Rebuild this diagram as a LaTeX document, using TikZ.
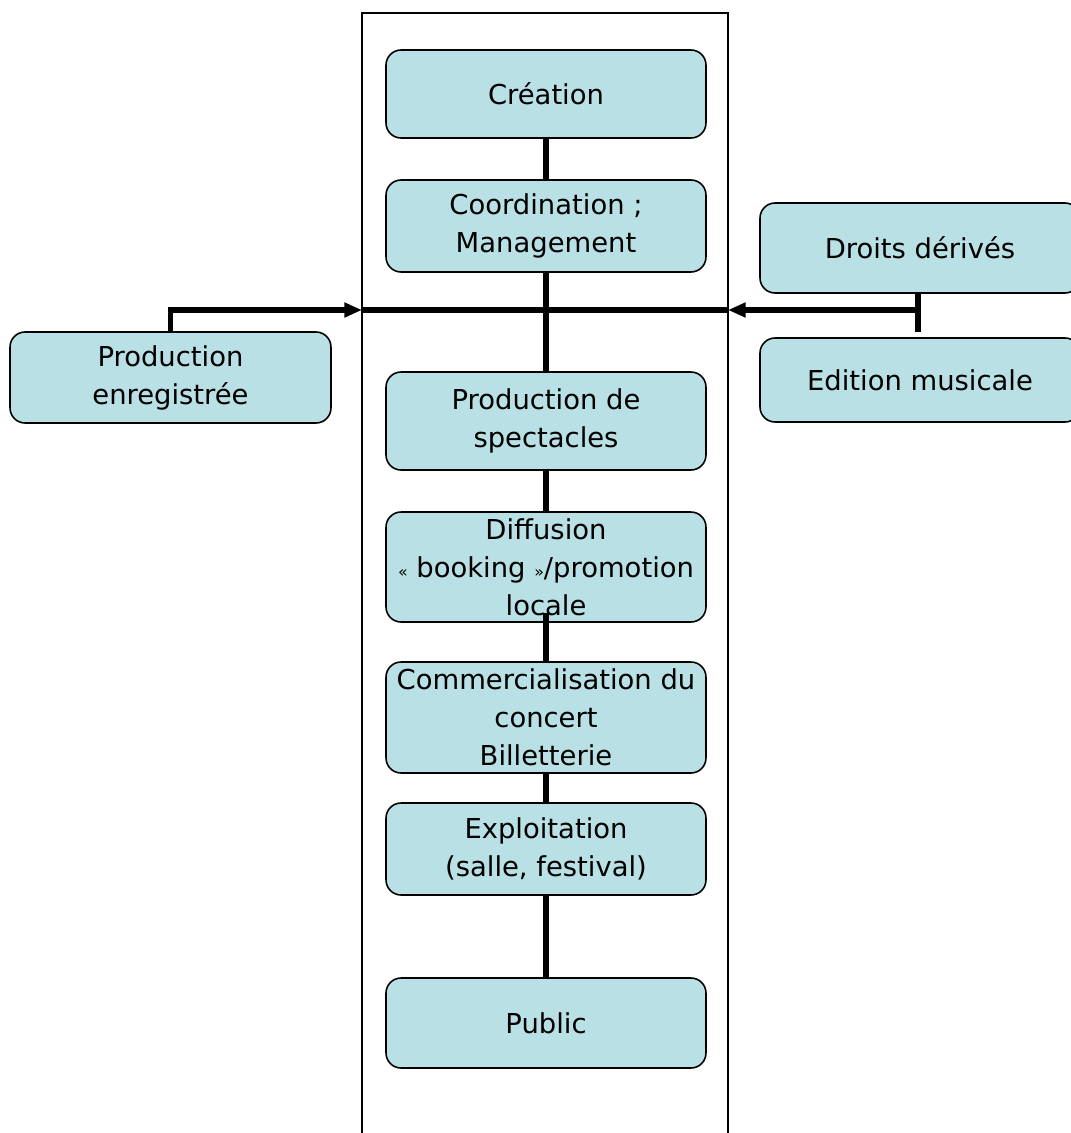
\documentclass[tikz,border=0pt]{standalone}
\usepackage{fontspec}
\setmainfont{DejaVu Sans}
\usepackage{xcolor}
\usetikzlibrary{positioning,calc,arrows.meta}

\definecolor{boxfill}{RGB}{185,224,228}
\tikzset{
    stage/.style={draw, line width=0.9pt, fill=boxfill, rounded corners=0.3cm,
        minimum width=6.4cm, align=center, inner sep=2pt,
        font=\fontsize{15.6}{21.6}\selectfont},
    conn/.style={line width=3.2pt},
    tip/.style={-{Triangle[length=10pt,width=8pt]}}
}

\begin{document}
\begin{tikzpicture}[x=0.02cm, y=-0.02cm]
    \useasboundingbox (0,0) rectangle (1071,1133);

    % Frame
    \draw[line width=0.9pt] (362,1140) -- (362,13) -- (728,13) -- (728,1140);

    % Central chain
    \node[stage, minimum height=1.76cm] (creation) at (546,94) {Création};
    \node[stage, minimum height=1.84cm] (coord) at (546,226) {Coordination ;\\Management};
    \node[stage, minimum height=1.96cm] (prodspec) at (546,421) {Production de\\spectacles};
    \node[stage, minimum height=2.2cm] (diffusion) at (546,567) {Diffusion\\{\small«} booking {\small»}/promotion\\locale};
    \node[stage, minimum height=2.22cm] (commerc) at (546,717.5) {Commercialisation du\\concert\\Billetterie};
    \node[stage, minimum height=1.84cm] (exploit) at (546,849) {Exploitation\\(salle, festival)};
    \node[stage, minimum height=1.8cm] (public) at (546,1023) {Public};

    % Side boxes
    \node[stage, minimum width=6.42cm, minimum height=1.82cm] (prodenr) at (170.5,377.5) {Production\\enregistrée};
    \node[stage, minimum height=1.8cm] (droits) at (920,248) {Droits dérivés};
    \node[stage, minimum height=1.68cm] (edition) at (920,380) {Edition musicale};

    \coordinate (lborder) at (362,310);
    \coordinate (rborder) at (728,310);
    \coordinate (droitsend) at (918,332);

    % Links
    \draw[conn] (creation) -- (coord);
    \draw[conn] (coord) -- (prodspec);
    \draw[conn] (prodspec) -- (diffusion);
    \draw[conn] ([yshift=0.2cm]diffusion.south) -- (commerc.north);
    \draw[conn] (commerc) -- (exploit);
    \draw[conn] (exploit) -- (public);

    \draw[conn, tip] (prodenr.north) |- (lborder);
    \draw[conn] (lborder) -- (rborder);
    \draw[conn] (droits.south -| droitsend) -- (droitsend);
    \draw[conn, tip] (droitsend |- lborder) -- (rborder);
\end{tikzpicture}
\end{document}
